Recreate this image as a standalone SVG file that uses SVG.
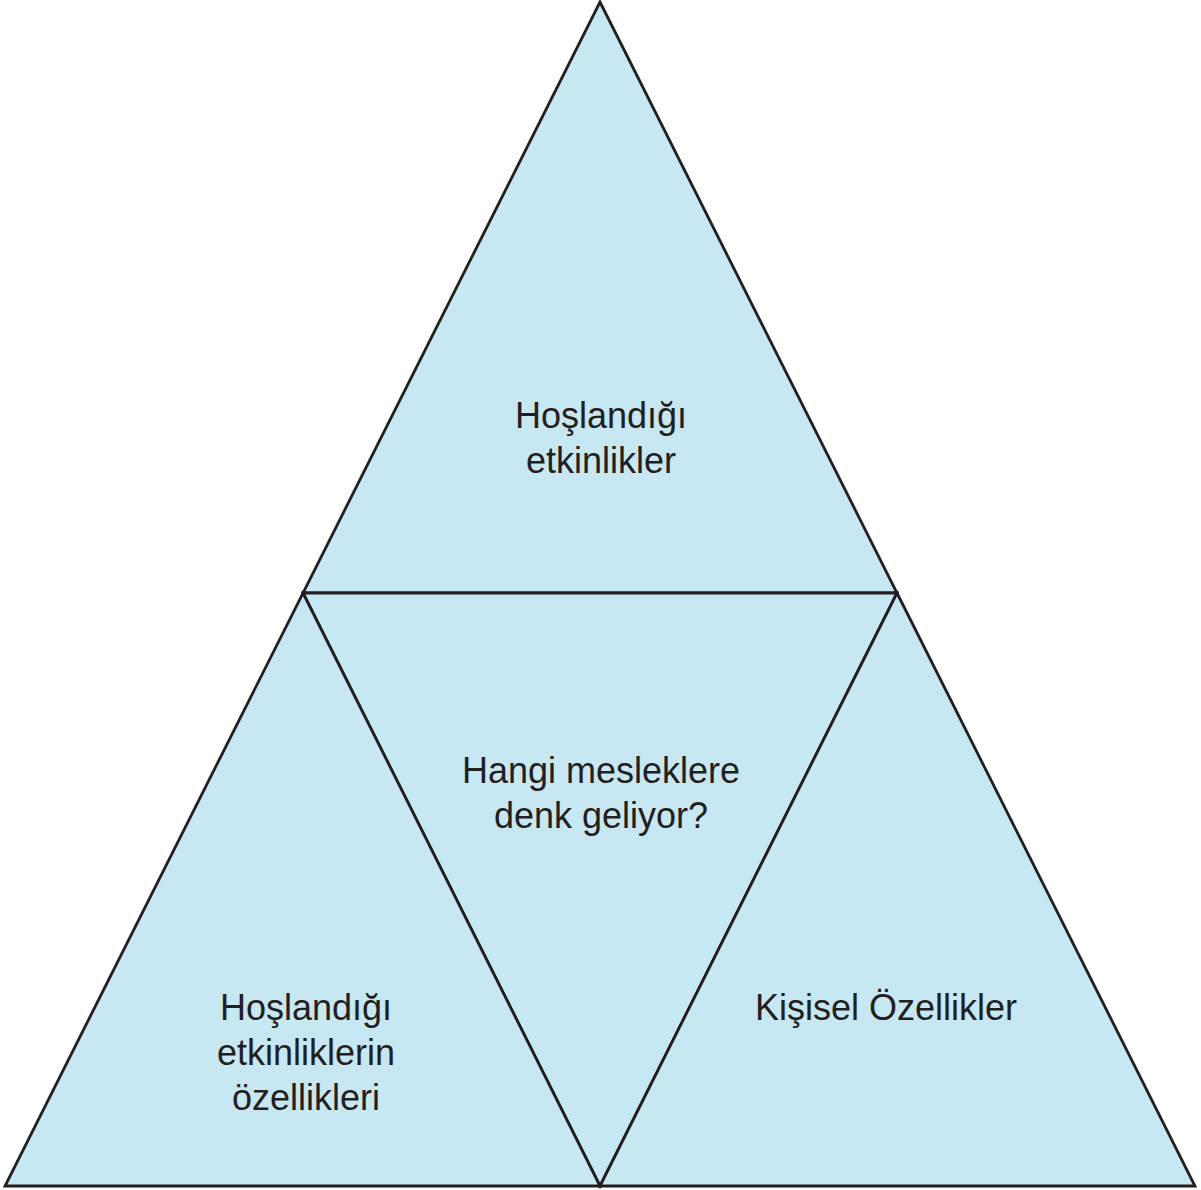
<svg xmlns="http://www.w3.org/2000/svg" width="1201" height="1190" viewBox="0 0 1201 1190">
<style>
.tri{fill:#c7e7f2;stroke:#231f20;stroke-width:2.8;stroke-linejoin:miter}
.t{font-family:"Liberation Sans",Arial,sans-serif;font-size:36px;fill:#231f20;text-anchor:middle}
</style>
<rect width="1201" height="1190" fill="#ffffff"/>
<g id="top"><polygon class="tri" points="600,2 897,593 303,593"/><text class="t" x="601" y="428">Hoşlandığı</text><text class="t" x="601" y="473">etkinlikler</text></g>
<g id="center"><polygon class="tri" points="303,593 897,593 600,1186"/><text class="t" x="601" y="783">Hangi mesleklere</text><text class="t" x="601" y="828">denk geliyor?</text></g>
<g id="left"><polygon class="tri" points="303,593 600,1186 5,1186"/><text class="t" x="306" y="1020">Hoşlandığı</text><text class="t" x="306" y="1065">etkinliklerin</text><text class="t" x="306" y="1110">özellikleri</text></g>
<g id="right"><polygon class="tri" points="897,593 1195,1186 600,1186"/><text class="t" x="886" y="1020">Kişisel Özellikler</text></g>
<g id="connectors"></g>
</svg>
